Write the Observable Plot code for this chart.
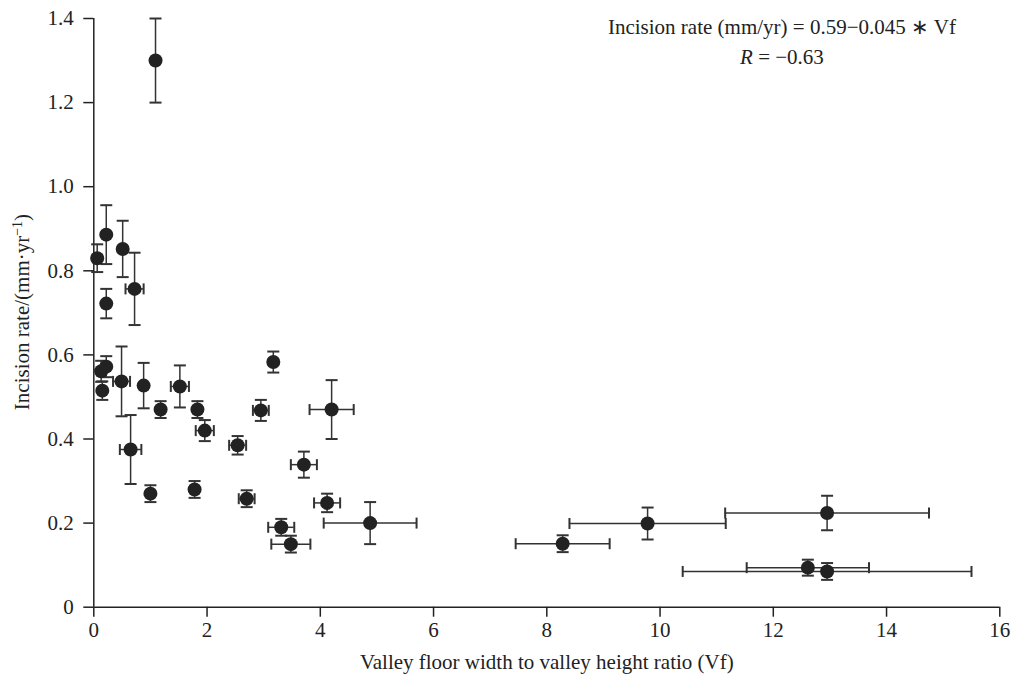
<!DOCTYPE html>
<html>
<head>
<meta charset="utf-8">
<script src="https://cdn.jsdelivr.net/npm/d3@7"></script>
<script src="https://cdn.jsdelivr.net/npm/@observablehq/plot@0.6"></script>
<style>
  html, body { margin: 0; padding: 0; background: #fff; }
  #wrap { position: relative; width: 1014px; height: 678px; overflow: hidden; }
  #note {
    position: absolute; left: 582px; width: 400px; top: 12px;
    font-family: 'Liberation Serif', 'Times New Roman', serif; font-size: 21px;
    line-height: 30px; text-align: center; color: #222;
  }
</style>
</head>
<body>
<div id="wrap"><div id="note"></div></div>
<script>
// ---- data ----
const vf      = [1.09, 0.06, 0.22, 0.51, 0.72, 0.22, 0.13, 0.22, 0.15, 0.49, 0.65, 0.88, 1.00, 1.18, 1.52, 1.78, 1.83, 1.96, 2.54, 2.70, 2.95, 3.17, 4.20, 3.71, 4.12, 3.31, 3.48, 4.88, 8.28, 9.78, 12.95, 12.61, 12.95];
const rate    = [1.30, 0.83, 0.886, 0.852, 0.757, 0.722, 0.561, 0.572, 0.515, 0.537, 0.375, 0.527, 0.27, 0.47, 0.525, 0.28, 0.47, 0.42, 0.385, 0.258, 0.468, 0.583, 0.47, 0.339, 0.248, 0.19, 0.15, 0.20, 0.151, 0.199, 0.224, 0.094, 0.085];
const vfErr   = [0, 0, 0, 0, 0.16, 0, 0, 0, 0, 0.15, 0.19, 0, 0, 0, 0.16, 0, 0, 0.16, 0.15, 0.14, 0.14, 0, 0.39, 0.23, 0.23, 0.23, 0.345, 0.82, 0.83, 1.38, 1.80, 1.08, 2.55];
const rateErr = [0.10, 0.033, 0.07, 0.067, 0.086, 0.035, 0.025, 0.025, 0.022, 0.083, 0.082, 0.054, 0.02, 0.02, 0.05, 0.02, 0.02, 0.025, 0.022, 0.02, 0.025, 0.025, 0.07, 0.031, 0.022, 0.02, 0.02, 0.05, 0.02, 0.038, 0.041, 0.019, 0.02];
const xTicks = [0, 2, 4, 6, 8, 10, 12, 14, 16];
const yTicks = [0, 0.2, 0.4, 0.6, 0.8, 1.0, 1.2, 1.4];
const xTitle = "Valley floor width to valley height ratio (Vf)";
const yTitle = "Incision rate/(mm·yr";
const yTitleSup = "−1";
const noteLine1 = "Incision rate (mm/yr) = 0.59−0.045 ∗ Vf";
const noteLine2R = "R";
const noteLine2 = " = −0.63";

const data = vf.map((x, i) => ({x, y: rate[i], ex: vfErr[i], ey: rateErr[i]}));
const withX = data.filter(d => d.ex > 0);

const hCap = {draw(ctx) { ctx.moveTo(-6, 0); ctx.lineTo(6, 0); }};
const vCap = {draw(ctx) { ctx.moveTo(0, -5.5); ctx.lineTo(0, 5.5); }};
const errStroke = "#333";
const font = "'Liberation Serif', 'Times New Roman', serif";

const chart = Plot.plot({
  width: 1014,
  height: 678,
  marginTop: 18,
  marginBottom: 71.3,
  marginLeft: 93.3,
  marginRight: 14.7,
  style: {fontFamily: font, fontSize: "21px", color: "#222", background: "white"},
  x: {domain: [0, 16], ticks: xTicks, tickSize: 10, tickPadding: 5, label: null, tickFormat: d => String(d)},
  y: {domain: [0, 1.4], ticks: yTicks, tickSize: 10, tickPadding: 10, label: null,
      tickFormat: d => d === 0 ? "0" : d.toFixed(1)},
  marks: [
    Plot.ruleY([0], {stroke: "#222", strokeWidth: 1.5}),
    Plot.ruleX([0], {stroke: "#222", strokeWidth: 1.5}),
    Plot.ruleX(data, {x: "x", y1: d => d.y - d.ey, y2: d => d.y + d.ey, stroke: errStroke, strokeWidth: 1.5}),
    Plot.ruleY(withX, {y: "y", x1: d => d.x - d.ex, x2: d => d.x + d.ex, stroke: errStroke, strokeWidth: 1.5}),
    Plot.dot(data, {x: "x", y: d => d.y + d.ey, symbol: hCap, fill: "none", stroke: errStroke, strokeWidth: 2}),
    Plot.dot(data, {x: "x", y: d => d.y - d.ey, symbol: hCap, fill: "none", stroke: errStroke, strokeWidth: 2}),
    Plot.dot(withX, {x: d => d.x - d.ex, y: "y", symbol: vCap, fill: "none", stroke: errStroke, strokeWidth: 2}),
    Plot.dot(withX, {x: d => d.x + d.ex, y: "y", symbol: vCap, fill: "none", stroke: errStroke, strokeWidth: 2}),
    Plot.dot(data, {x: "x", y: "y", r: 7, fill: "#222", stroke: "none"}),
    Plot.text([xTitle], {text: d => d, frameAnchor: "bottom", dy: 55, lineAnchor: "middle", fontSize: 21, fill: "#222"})
  ]
});

const svg = d3.select(chart);
svg.selectAll("[aria-label^='x-axis'] path, [aria-label^='y-axis'] path").attr("stroke", "#222").attr("stroke-width", 1.5);
const yt = svg.append("text")
  .attr("transform", "translate(29,312) rotate(-90)")
  .attr("text-anchor", "middle")
  .attr("fill", "#222")
  .style("font-family", font)
  .style("font-size", "21px");
yt.append("tspan").text(yTitle);
yt.append("tspan").attr("baseline-shift", "super").style("font-size", "14px").text(yTitleSup);
yt.append("tspan").text(")");

document.getElementById("wrap").prepend(chart);
const note = document.getElementById("note");
const l1 = document.createElement("div"); l1.textContent = noteLine1; note.appendChild(l1);
const l2 = document.createElement("div");
const ri = document.createElement("i"); ri.textContent = noteLine2R; l2.appendChild(ri);
l2.appendChild(document.createTextNode(noteLine2));
note.appendChild(l2);
</script>
</body>
</html>
